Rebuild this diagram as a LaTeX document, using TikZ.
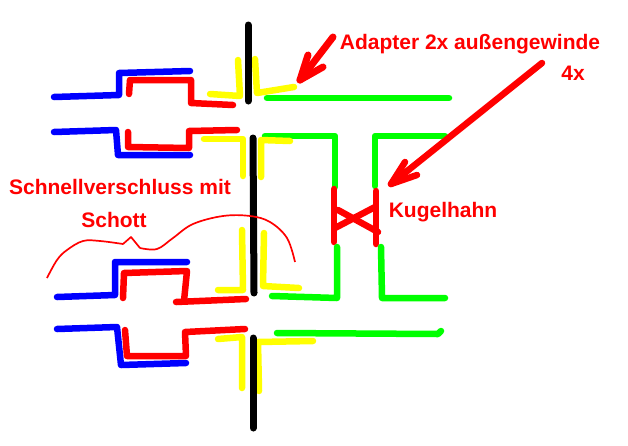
\documentclass[tikz,border=0pt]{standalone}
\usepackage{fontspec}
\setmainfont{Liberation Sans}
\definecolor{paintred}{HTML}{FF0000}
\definecolor{paintblue}{HTML}{0000FF}
\definecolor{paintgreen}{HTML}{00FF00}
\definecolor{paintyellow}{HTML}{FFFF00}
\begin{document}
\begin{tikzpicture}[
  x=1pt,y=-1pt,
  l/.style={line width=6.5pt,line cap=round,line join=round},
  wall/.style={l,black,line width=7pt},
  blueline/.style={l,paintblue},
  redline/.style={l,paintred},
  greenline/.style={l,paintgreen},
  yellowline/.style={l,paintyellow},
  t/.style={text=paintred,font=\fontsize{21}{24}\selectfont\bfseries,inner sep=0pt}
]
\useasboundingbox (0,0) rectangle (628,445);
\fill[white] (0,0) rectangle (628,445);
\coordinate (adapterfrom) at (333,37);
\coordinate (adaptertip) at (300,80);
\coordinate (valvefrom) at (542,63);
\coordinate (valvetip) at (391,184);

% top wall
\draw[blueline] (54,97) -- (119,95) -- (119,73) -- (190,71);
\draw[redline] (129,94) -- (130,80) -- (191,80) -- (191,103) -- (233,105);
\draw[yellowline] (210,94) -- (240,96) -- (238,60);
\draw[yellowline] (255,59) -- (257,93) -- (294,87);
\draw[wall] (248,25) -- (248,101);
\draw[greenline] (267,98) -- (449,98);

\draw[blueline] (54,132) -- (116,130) -- (118,155) -- (190,155);
\draw[redline] (128,132) -- (128,147) -- (189,148) -- (189,131) -- (237,130);
\draw[greenline] (265,136) -- (335,136) -- (335,187);
\draw[greenline] (375,186) -- (375,136) -- (445,136);
\draw[yellowline] (204,139) -- (243,139) -- (243,176);
\draw[yellowline] (261,177) -- (261,140) -- (290,141);

% ball valve
\draw[redline] (334,189) -- (334,242);
\draw[redline] (376,191) -- (376,244);
\draw[redline] (338,210) -- (378,232);
\draw[redline] (335,228) -- (375,207);

% bottom wall
\draw[yellowline] (242,230) -- (243,290) -- (218,290);
\draw[yellowline] (264,233) -- (263,286) -- (299,288);
\draw[wall] (253,138) -- (254,293);
\draw[blueline] (57,297) -- (115,295) -- (115,262) -- (187,262);
\draw[redline] (123,298) -- (124,273) -- (187,271) -- (184,301);
\draw[redline] (176,302) -- (246,299);
\draw[greenline] (337,247) -- (337,298) -- (272,296);
\draw[greenline] (381,247) -- (382,298) -- (445,298);

\draw[blueline] (57,329) -- (117,327) -- (121,365) -- (186,363);
\draw[redline] (125,330) -- (127,356) -- (186,356) -- (185,332) -- (245,329);
\draw[yellowline] (218,339) -- (242,337) -- (242,388);
\draw[yellowline] (259,391) -- (258,342) -- (313,341);
\draw[wall] (253,338) -- (253,428);
\draw[greenline] (277,333) -- (438,334) -- (441,331);

% hand drawn outline
\draw[paintred,line width=1.7pt,line join=round] plot[smooth,tension=0.6] coordinates {
  (47,278) (57,260) (67,250) (83,241) (100,241) (123,244)}
  -- (131,237) -- (140,248)
  plot[smooth,tension=0.6] coordinates {
  (140,248) (157,249) (173,238) (193,224) (223,216) (250,216) (270,222) (287,238) (295,262)};

% arrows
\draw[redline,line width=7pt] (adapterfrom) -- (adaptertip);
\draw[redline,line width=7pt] (308,55) -- (adaptertip) -- (323,67);
\draw[redline,line width=6.5pt] (valvefrom) -- (valvetip);
\draw[redline,line width=6.5pt] (405,162) -- (valvetip) -- (417,175);

\node[t] (adapter) at (470,44) {Adapter 2x außengewinde};
\node[t] (count) at (573,73) {4x};
\node[t] (valve) at (443,212) {Kugelhahn};
\node[t] (closure) at (120,187) {Schnellverschluss mit};
\node[t] (bulkhead) at (114,220) {Schott};
\end{tikzpicture}
\end{document}
